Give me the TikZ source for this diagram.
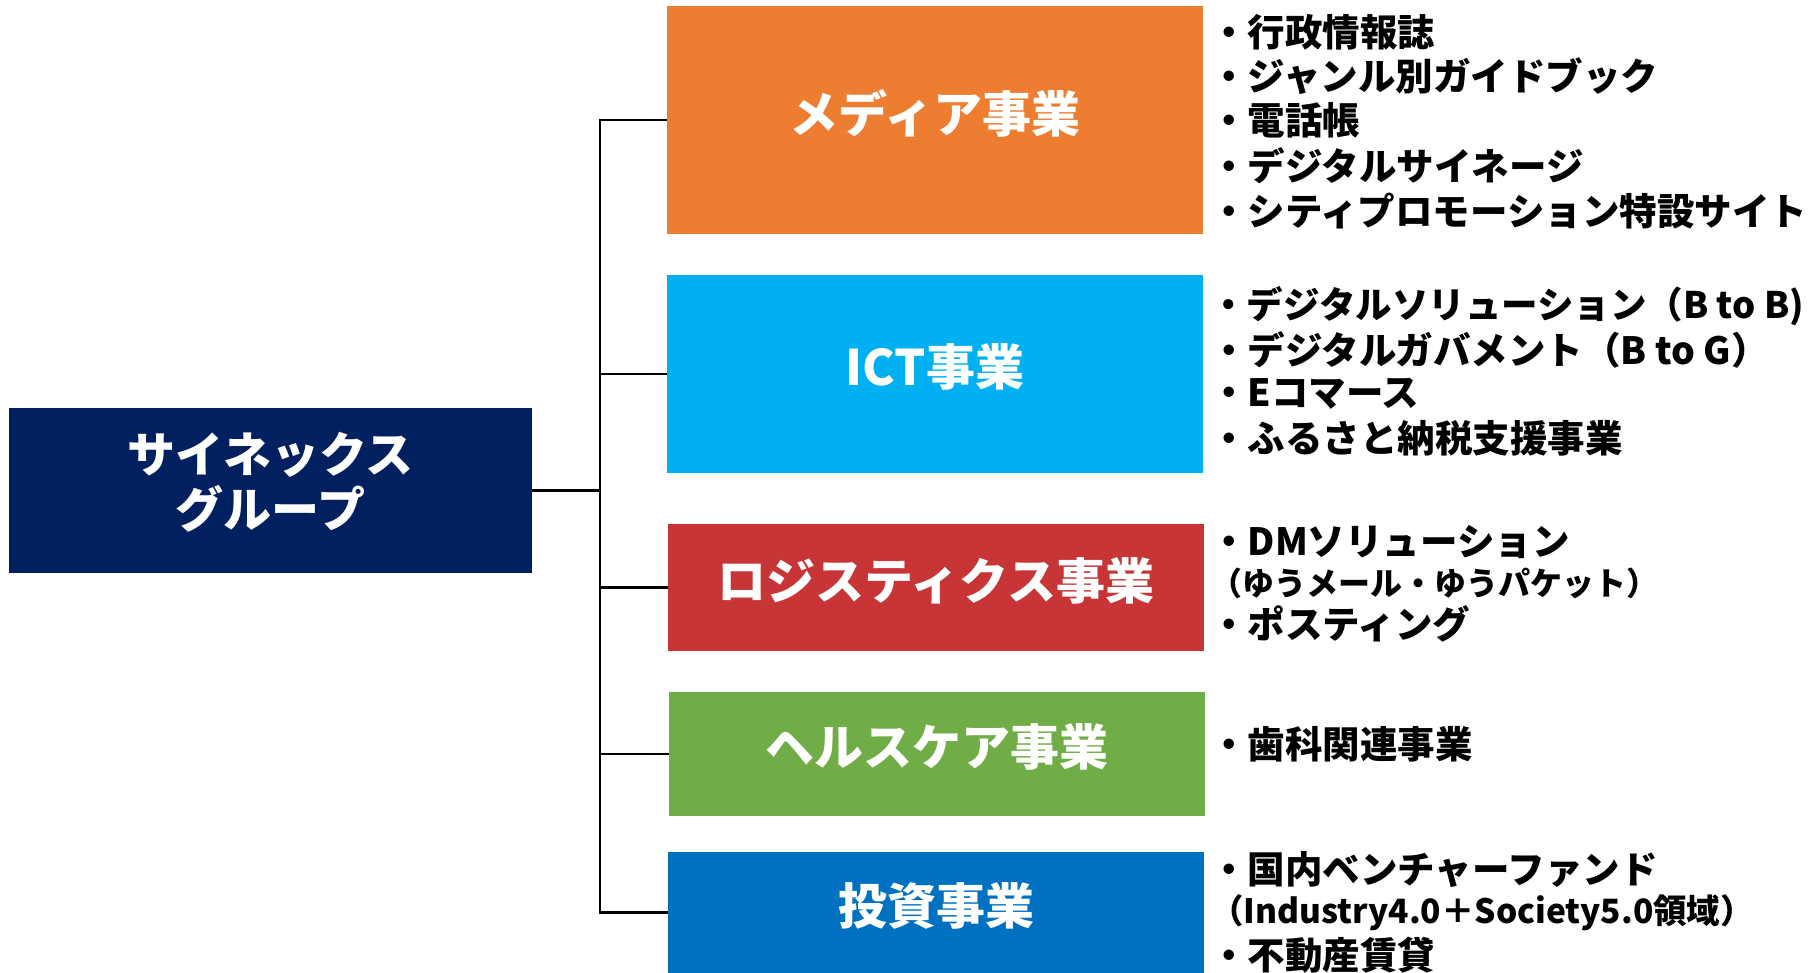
\documentclass[tikz,border=0pt]{standalone}
\usepackage{fontspec}
\setmainfont{Noto Sans CJK JP}
\definecolor{navy}{HTML}{002060}
\definecolor{cmedia}{HTML}{ED7D31}
\definecolor{cict}{HTML}{00B0F0}
\definecolor{clogi}{HTML}{C73537}
\definecolor{chealth}{HTML}{70AD47}
\definecolor{cinvest}{HTML}{0070C0}
\begin{document}
\begin{tikzpicture}[x=1pt,y=-1pt,
  biz/.style={rectangle,fill=#1,inner sep=0pt,minimum width=536pt},
  lbl/.style={text=white,inner sep=0pt,font=\fontsize{49}{56}\selectfont\bfseries},
  item/.style={anchor=west,inner sep=0pt,text=black,font=\fontsize{37.5}{44}\selectfont\bfseries},
  subitem/.style={anchor=west,inner sep=0pt,text=black,font=\fontsize{#1}{36}\selectfont\bfseries},
  conn/.style={draw=black,line width=2.6pt}]
\useasboundingbox (0,0) rectangle (1815,973);
% root
\node[rectangle,fill=navy,inner sep=0pt,minimum width=523pt,minimum height=165pt] (root) at (270.5,490.5) {};
\node[lbl,align=center,font=\fontsize{48}{55}\selectfont\bfseries] (rootL) at ([yshift=8pt]root.center) {サイネックス\\グループ};
% business boxes
\node[biz=cmedia,minimum height=228pt] (media) at (935,120) {};
\node[biz=cict,minimum height=198pt] (ict) at (935,374) {};
\node[biz=clogi,minimum height=127pt] (logi) at (936,587.5) {};
\node[biz=chealth,minimum height=124pt] (health) at (937,754) {};
\node[biz=cinvest,minimum height=121pt] (invest) at (936,912.5) {};
\node[lbl] (mediaL) at ([yshift=7pt]media.center) {メディア事業};
\node[lbl] (ictL) at ([yshift=7pt]ict.center) {ICT事業};
\node[lbl] (logiL) at ([yshift=7pt]logi.center) {ロジスティクス事業};
\node[lbl] (healthL) at ([yshift=7pt]health.center) {ヘルスケア事業};
\node[lbl] (investL) at (936,906) {投資事業};
% connectors
\coordinate (j) at (600,490.5);
\draw[conn] (root.east) -- (j);
\draw[conn] (j) |- (media.west);
\draw[conn] (j) |- (ict.west);
\draw[conn] (j) |- (logi.west);
\draw[conn] (j) |- (health.west);
\draw[conn] (j) |- (invest.west);
% lists
\node[item] (m1) at (1210,32) {・行政情報誌};
\node[item] (m2) at (1210,76) {・ジャンル別ガイドブック};
\node[item] (m3) at (1210,120) {・電話帳};
\node[item] (m4) at (1210,166) {・デジタルサイネージ};
\node[item] (m5) at (1210,211) {・シティプロモーション特設サイト};
\node[item,font=\fontsize{36.5}{44}\selectfont\bfseries] (i1) at (1210,306) {・デジタルソリューション（B to B)};
\node[item] (i2) at (1210,350) {・デジタルガバメント（B to G）};
\node[item] (i3) at (1210,394) {・Eコマース};
\node[item] (i4) at (1210,438) {・ふるさと納税支援事業};
\node[item] (l1) at (1210,542) {・DMソリューション};
\node[subitem=32] (l2) at (1210,583) {（ゆうメール・ゆうパケット）};
\node[item] (l3) at (1210,624) {・ポスティング};
\node[item] (h1) at (1210,744) {・歯科関連事業};
\node[item] (v1) at (1210,870) {・国内ベンチャーファンド};
\node[subitem=33.5] (v2) at (1210,913) {（Industry4.0＋Society5.0領域）};
\node[item] (v3) at (1210,955) {・不動産賃貸};
\end{tikzpicture}
\end{document}
